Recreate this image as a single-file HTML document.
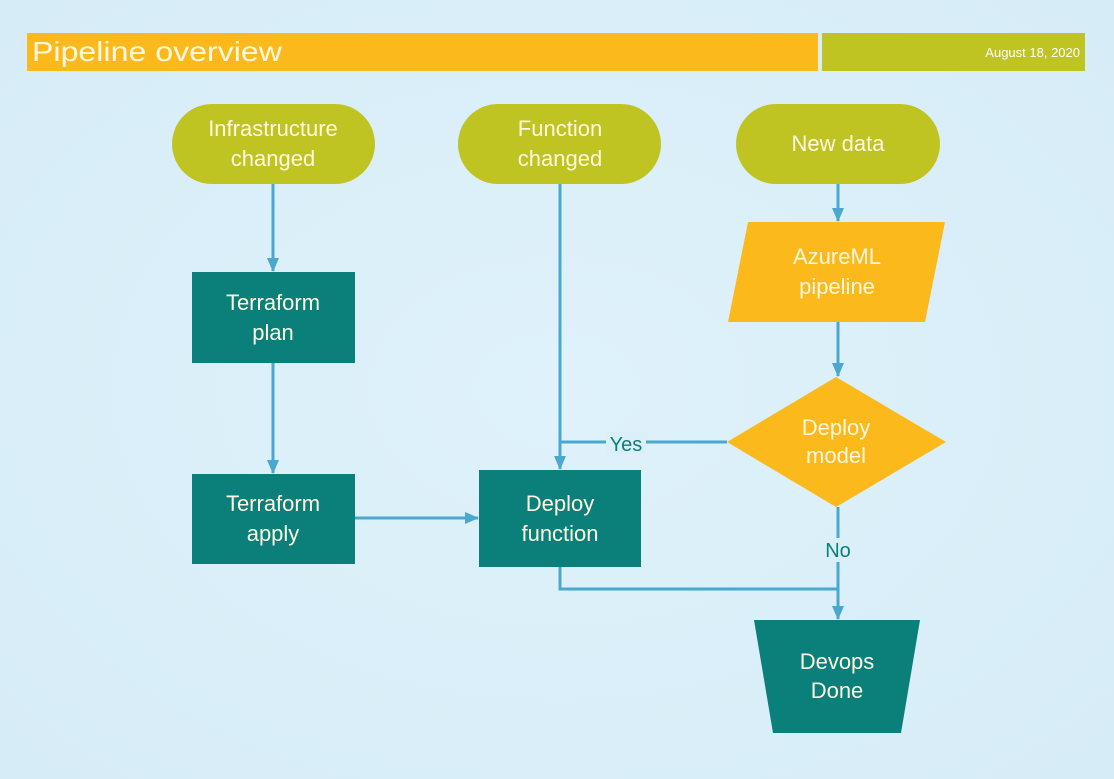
<!DOCTYPE html>
<html><head><meta charset="utf-8"><style>
html,body{margin:0;padding:0;width:1114px;height:779px;overflow:hidden;background:#dbeff9}
svg text{font-family:"Liberation Sans",sans-serif}
</style></head><body>
<svg width="1114" height="779" viewBox="0 0 1114 779">
<defs>
<radialGradient id="bg" cx="0.5" cy="0.5" r="0.7"><stop offset="0" stop-color="#dff2fb"/><stop offset="1" stop-color="#d6ecf7"/></radialGradient>
<marker id="arr" markerWidth="14" markerHeight="12" refX="13" refY="6" orient="auto" markerUnits="userSpaceOnUse" viewBox="0 0 14 12"><path d="M0,0 L14,6 L0,12 Z" fill="#4aa8cf"/></marker>
</defs>
<rect width="1114" height="779" fill="url(#bg)"/>
<rect x="27" y="33" width="791" height="38" fill="#fbb91b"/>
<rect x="822" y="33" width="263" height="38" fill="#bfc423"/>
<text x="32" y="61" font-size="28" fill="#fff8e0" textLength="250" lengthAdjust="spacingAndGlyphs">Pipeline overview</text>
<text x="1080" y="57" font-size="13" fill="#fff" text-anchor="end">August 18, 2020</text>

<g stroke="#4aa8cf" stroke-width="3" fill="none">
<line x1="273" y1="184" x2="273" y2="271" marker-end="url(#arr)"/>
<line x1="273" y1="363" x2="273" y2="473" marker-end="url(#arr)"/>
<line x1="560" y1="184" x2="560" y2="469" marker-end="url(#arr)"/>
<line x1="838" y1="184" x2="838" y2="221" marker-end="url(#arr)"/>
<line x1="838" y1="322" x2="838" y2="376" marker-end="url(#arr)"/>
<polyline points="727,442 560,442"/>
<line x1="355" y1="518" x2="478" y2="518" marker-end="url(#arr)"/>
<line x1="838" y1="507" x2="838" y2="619" marker-end="url(#arr)"/>
<polyline points="560,567 560,589 838,589"/>
</g>
<rect x="606" y="432" width="40" height="22" fill="#dbeff9"/>
<text x="626" y="451" font-size="20" fill="#0b7f7a" text-anchor="middle">Yes</text>
<rect x="822" y="538" width="32" height="24" fill="#dbeff9"/>
<text x="838" y="557" font-size="20" fill="#0b7f7a" text-anchor="middle">No</text>

<g fill="#bfc423">
<rect x="172" y="104" width="203" height="80" rx="40"/>
<rect x="458" y="104" width="203" height="80" rx="40"/>
<rect x="736" y="104" width="204" height="80" rx="40"/>
</g>
<g fill="#0b7f7a">
<rect x="192" y="272" width="163" height="91"/>
<rect x="192" y="474" width="163" height="90"/>
<rect x="479" y="470" width="162" height="97"/>
<polygon points="754,620 920,620 901,733 773,733"/>
</g>
<polygon points="748,222 945,222 925,322 728,322" fill="#fbb91b"/>
<polygon points="836,377 946,442 836,507 727,442" fill="#fbb91b"/>

<g font-size="22" text-anchor="middle" fill="#fff8e0">
<text x="273" y="136">Infrastructure</text><text x="273" y="166">changed</text>
<text x="560" y="136">Function</text><text x="560" y="166">changed</text>
<text x="838" y="151">New data</text>
<text x="273" y="310">Terraform</text><text x="273" y="340">plan</text>
<text x="273" y="511">Terraform</text><text x="273" y="541">apply</text>
<text x="560" y="511">Deploy</text><text x="560" y="541">function</text>
<text x="837" y="264">AzureML</text><text x="837" y="294">pipeline</text>
<text x="836" y="435">Deploy</text><text x="836" y="463">model</text>
<text x="837" y="669">Devops</text><text x="837" y="698">Done</text>
</g>
</svg>
</body></html>
